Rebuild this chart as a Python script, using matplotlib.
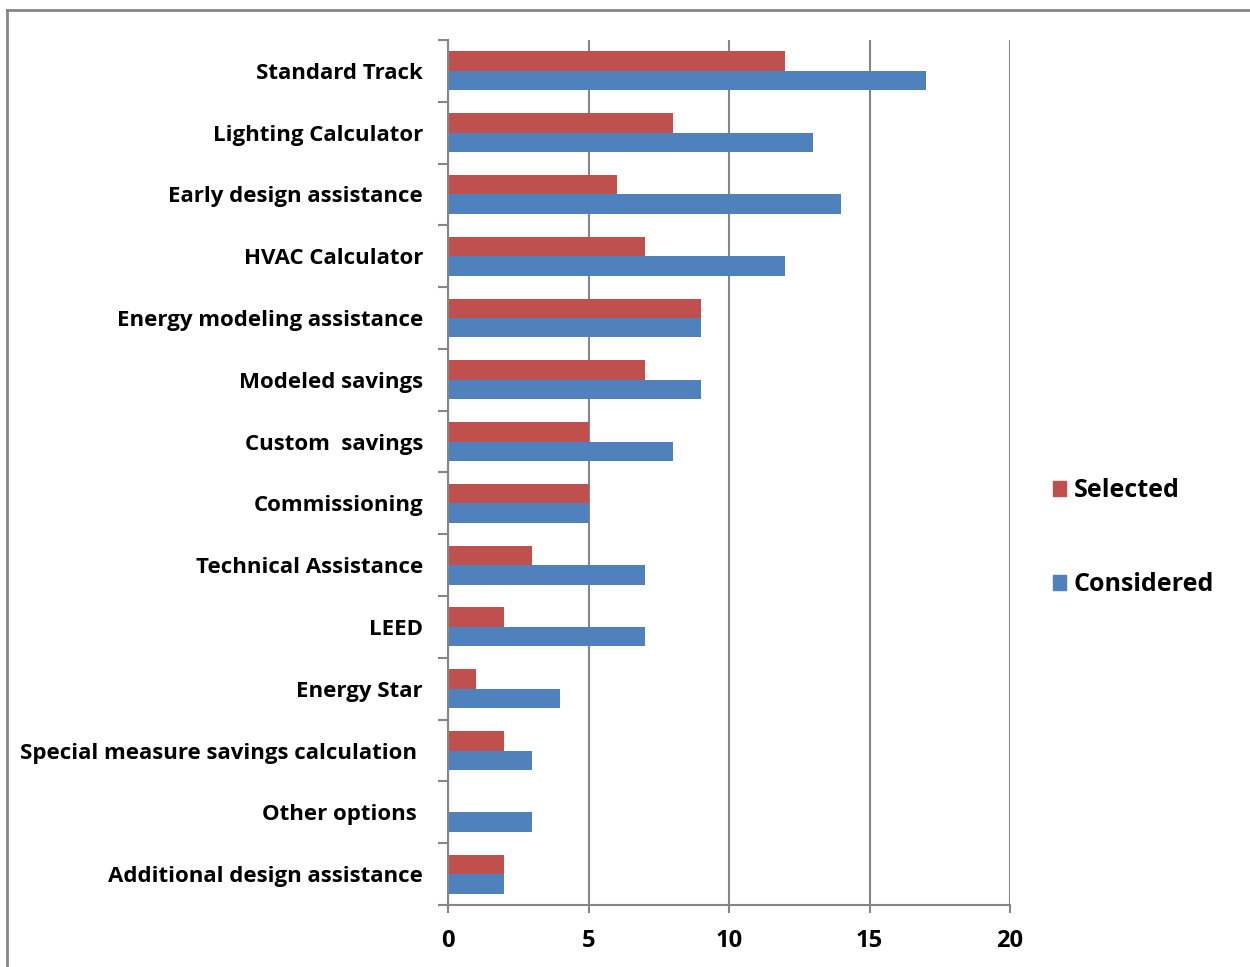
import numpy as np
import matplotlib.pyplot as plt
from matplotlib.patches import Patch
from matplotlib.lines import Line2D

# Program options, listed top to bottom
options = [
    'Standard Track',
    'Lighting Calculator',
    'Early design assistance',
    'HVAC Calculator',
    'Energy modeling assistance',
    'Modeled savings',
    'Custom  savings',
    'Commissioning',
    'Technical Assistance',
    'LEED',
    'Energy Star',
    'Special measure savings calculation ',
    'Other options ',
    'Additional design assistance',
]
selected = [12, 8, 6, 7, 9, 7, 5, 5, 3, 2, 1, 2, 0, 2]
considered = [17, 13, 14, 12, 9, 9, 8, 5, 7, 7, 4, 3, 3, 2]
x_ticks = [0, 5, 10, 15, 20]

red = '#C0504D'
blue = '#4F81BD'
gray = '#868686'

plt.rcParams['font.family'] = ['Open Sans', 'DejaVu Sans']
plt.rcParams['font.weight'] = 'bold'

fig = plt.figure(figsize=(12.5, 9.67), dpi=100)
ax = fig.add_axes([0.3584, 0.0641, 0.4496, 0.8946])

n = len(options)
y = np.arange(n)[::-1].astype(float)
h = 0.315

ax.barh(y + h / 2, selected, height=h, color=red, linewidth=0, zorder=3)
ax.barh(y - h / 2, considered, height=h, color=blue, linewidth=0, zorder=3)

ax.set_xlim(0, 20)
ax.set_ylim(-0.5, n - 0.5)
ax.set_xticks(x_ticks)
ax.set_xticklabels([str(t) for t in x_ticks], fontsize=17, fontweight='bold')
ax.tick_params(axis='x', length=6, width=1.5, color=gray, pad=11)

# category labels between the boundary ticks
ax.set_yticks(np.arange(n + 1) - 0.5)
ax.set_yticklabels([])
ax.set_yticks(y, minor=True)
ax.set_yticklabels(options, minor=True, fontsize=16, fontweight='bold')
ax.tick_params(axis='y', which='major', length=7, width=1.5, color=gray)
ax.tick_params(axis='y', which='minor', length=0, pad=18)

ax.grid(axis='x', color=gray, linewidth=1.5, zorder=0)
for side in ['top', 'right']:
    ax.spines[side].set_visible(False)
for side in ['left', 'bottom']:
    ax.spines[side].set_color(gray)
    ax.spines[side].set_linewidth(1.5)
    ax.spines[side].set_zorder(4)

handles = [Patch(color=red, label='Selected'), Patch(color=blue, label='Considered')]
fig.legend(handles=handles, loc='center left', bbox_to_anchor=(0.824, 0.444),
           frameon=False, prop={'weight': 'bold', 'size': 18},
           handlelength=0.55, handleheight=0.55, handletextpad=0.3, labelspacing=2.77)

# outer chart border
fig.add_artist(Line2D([0.0056, 0.0056], [0, 0.9897], color=gray, linewidth=2))
fig.add_artist(Line2D([0.0056, 1.0], [0.9897, 0.9897], color=gray, linewidth=2))

fig.savefig('out.png', dpi=100, facecolor='white')
